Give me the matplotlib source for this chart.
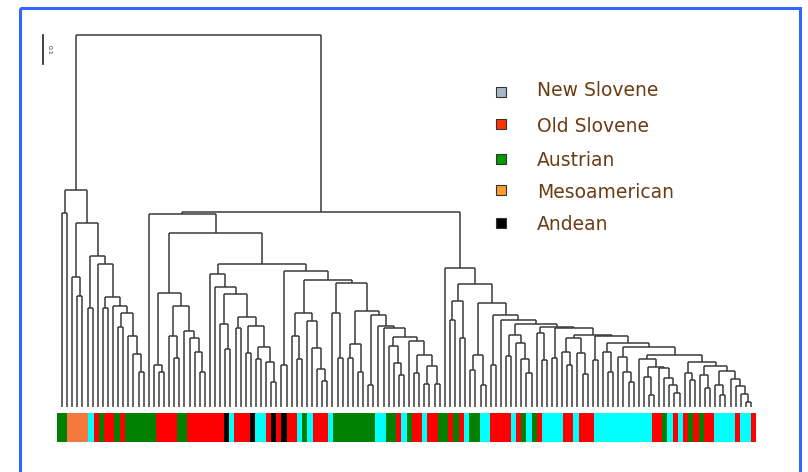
import numpy as np
import matplotlib
matplotlib.use("Agg")
import matplotlib.pyplot as plt
from matplotlib.patches import Rectangle
from matplotlib.transforms import blended_transform_factory

# ここにデータ  (木構造: [距離, 左, 右], L = 葉)
L = 0

left_group = [0.748, [0.669, L, L],
              [0.634, [0.448, L, [0.383, L, L]],
               [0.521, [0.341, L, L],
                [0.493, L,
                 [0.379, [0.341, L, L],
                  [0.348, L, [0.324, [0.276, L, L],
                              [0.245, L, [0.183, L, [0.121, L, L]]]]]]]]]]

f_group = [0.393, [0.145, L, [0.121, L, L]],
           [0.348, [0.245, L, [0.170, L, L]],
            [0.262, L, [0.238, L, [0.190, L, [0.121, L, L]]]]]]

g_left = [0.459, L, [0.414, L,
                     [0.390, [0.286, L, [0.200, L, L]],
                      [0.310, [0.272, L, L],
                       [0.279, [0.186, L, L],
                        [0.207, [0.166, L, L], [0.155, L, [0.086, L, L]]]]]]]]

h_mid = [0.324, [0.245, L, [0.166, L, L]],
         [0.297, L, [0.203, L, [0.131, L, [0.090, L, L]]]]]

x_group = [0.324, L, [0.169, L, L]]

y_group = [0.331, [0.217, [0.169, L, L], [0.121, L, L]],
           [0.317, [0.076, L, L],
            [0.279, L, [0.272, L,
                        [0.241, [0.210, L, [0.152, L, [0.110, L, L]]],
                         [0.228, L, [0.179, [0.117, L, L],
                                     [0.141, [0.079, L, L], [0.079, L, L]]]]]]]]]

h_group = [0.469, [0.145, L, L], [0.438, h_mid, [0.428, x_group, y_group]]]
mid_group = [0.666, L, [0.600, f_group, [0.493, g_left, h_group]]]

d15 = [0.124, [0.076, L, [0.041, L, L]],
       [0.097, L, [0.072, L, [0.045, L, [0.017, L, L]]]]]
d14 = [0.141, [0.110, L, [0.066, L, L]], d15]
d13 = [0.155, [0.117, L, [0.093, L, L]], d14]
d12 = [0.179, [0.166, L, [0.138, [0.103, L, [0.041, L, L]],
                         [0.134, L, [0.100, L, [0.076, L, [0.050, L, L]]]]]], d13]
d11 = [0.207, [0.172, L, [0.121, L, [0.086, L, L]]], d12]
d10 = [0.221, [0.190, L, [0.121, L, L]], d11]
d9 = [0.245, [0.162, L, L], d10]
d8 = [0.248, [0.238, [0.190, L, [0.145, L, L]], [0.186, L, [0.114, L, L]]], d9]
d7 = [0.272, [0.169, L, L], d8]
d6 = [0.276, [0.255, L, [0.162, L, L]], d7]
d5 = [0.286, [0.248, [0.176, L, L], [0.221, L, [0.166, L, [0.117, L, L]]]], d6]
d4 = [0.300, L, d5]
d3 = [0.317, [0.145, L, L], d4]
d2 = [0.359, [0.179, [0.128, L, L], [0.076, L, L]], d3]
d1 = [0.424, [0.366, [0.300, L, L], [0.238, L, L]], d2]
right_group = [0.479, L, d1]

tree = [1.283, left_group, [0.672, mid_group, right_group]]

# 色帯 (A=Austrian, M=Mesoamerican, N=New Slovene, O=Old Slovene, D=Andean)
strip_codes = "A M N O A O A O A O A O D N O D N O D O D O N A N O N A N A O N A O N O A O A O N A N O N O A N A O N O N O N O A N O N O A O A O N O N O".split()
strip_counts = [2, 4, 1, 1, 1, 2, 1, 1, 6, 4, 2, 7, 1, 1, 3, 1, 2, 1, 1, 1, 1, 2, 1,
                1, 1, 3, 1, 8, 2, 2, 1, 1, 1, 2, 1, 2, 2, 1, 1, 1, 1, 2, 2, 4, 1, 1,
                1, 1, 1, 1, 4, 2, 1, 3, 11, 2, 1, 1, 1, 1, 1, 1, 1, 1, 2, 4, 1, 2, 1]
strip_colors = {"A": "#008000", "M": "#f5793f", "N": "#00ffff", "O": "#ff0000", "D": "#000000"}

legend_labels = ["New Slovene", "Old Slovene", "Austrian", "Mesoamerican", "Andean"]
legend_colors = ["#a7b7c6", "#ff3300", "#009900", "#ff9933", "#000000"]

scale_len = 0.1


# 葉の位置を数えながら線分を作る
segs = []
leaf_count = [0]


def walk(node):
    if not isinstance(node, list):
        x = leaf_count[0]
        leaf_count[0] += 1
        return x, 0.0
    h, a, b = node
    xa, ha = walk(a)
    xb, hb = walk(b)
    segs.append(((xa, xa), (ha, h)))
    segs.append(((xb, xb), (hb, h)))
    segs.append(((xa, xb), (h, h)))
    return (xa + xb) / 2, h


walk(tree)
n_leaves = leaf_count[0]
root_h = tree[0]

W, H = 808, 472
fig = plt.figure(figsize=(W / 100, H / 100), dpi=100)

ax = fig.add_axes([62 / W, 65 / H, 689 / W, 372 / H])
for xs, ys in segs:
    ax.plot(xs, ys, color="#3a3a3a", lw=1.1, solid_capstyle="butt", clip_on=False)
ax.set_xlim(0, n_leaves - 1)
ax.set_ylim(0, root_h)
ax.axis("off")

# スケールバー
tr = blended_transform_factory(ax.transAxes, ax.transData)
ax.plot([-0.0276, -0.0276], [root_h, root_h - scale_len], color="#222222", lw=1.2,
        transform=tr, clip_on=False)
ax.text(-0.019, root_h - scale_len / 2, "0.1", rotation=-90, fontsize=4.5,
        ha="center", va="center", transform=tr, color="#333333")

# 色帯
sx = fig.add_axes([57 / W, 30 / H, 699 / W, 29 / H])
starts = np.concatenate([[0], np.cumsum(strip_counts)[:-1]])
sx.bar(starts, 1, width=strip_counts, align="edge",
       color=[strip_colors[c] for c in strip_codes], linewidth=0)
sx.set_xlim(0, sum(strip_counts))
sx.set_ylim(0, 1)
sx.axis("off")

# 凡例と枠
ov = fig.add_axes([0, 0, 1, 1])
ov.set_xlim(0, W)
ov.set_ylim(H, 0)
ov.axis("off")
ov.patch.set_alpha(0)
ov.add_patch(Rectangle((20, 8), 780, 480, fill=False, edgecolor="#3366ff", lw=2.2))

box_y = [92, 124, 159, 190, 223]
text_y = [90, 127, 160, 193, 225]
for lab, col, by, ty in zip(legend_labels, legend_colors, box_y, text_y):
    ov.add_patch(Rectangle((496, by - 5), 10, 10, facecolor=col, edgecolor="#333333", lw=0.8))
    ov.text(537, ty, lab, fontsize=13.5, color="#6b3d14", va="center", ha="left")

fig.savefig("out.png", dpi=100)
